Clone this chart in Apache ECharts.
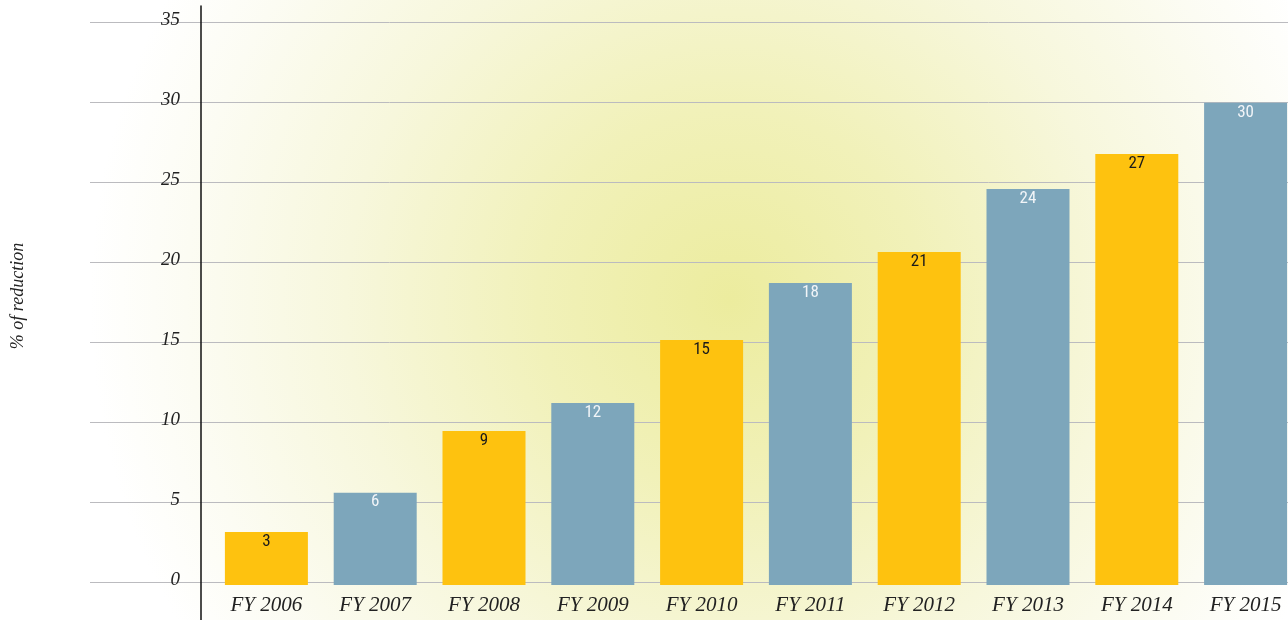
<!DOCTYPE html>
<html>
<head>
<meta charset="utf-8">
<script src="https://cdn.jsdelivr.net/npm/echarts@6/dist/echarts.min.js"></script>
<style>
html,body{margin:0;padding:0;background:#fff;}
#chart{width:1288px;height:620px;}
</style>
</head>
<body>
<div id="chart"></div>
<script>
// ---- data ----
const categories = ['FY 2006','FY 2007','FY 2008','FY 2009','FY 2010','FY 2011','FY 2012','FY 2013','FY 2014','FY 2015'];
const barHeights = [3.31, 5.77, 9.63, 11.38, 15.31, 18.88, 20.81, 24.75, 26.94, 30.14];
const barLabels = [3, 6, 9, 12, 15, 18, 21, 24, 27, 30];
const yTicks = [0, 5, 10, 15, 20, 25, 30, 35];

// ---- styles ----
const GOLD = '#FEC20F', BLUE = '#7DA6BB';
const serif = "'Liberation Serif', 'DejaVu Serif', serif";
const narrow = "'Liberation Sans Narrow', 'Arial Narrow', 'Roboto Condensed', 'Roboto', sans-serif";

const chart = echarts.init(document.getElementById('chart'), null, {renderer: 'canvas'});

const yMin = yTicks[0], yMax = yTicks[yTicks.length - 1], yStep = yTicks[1] - yTicks[0];

const option = {
  animation: false,
  backgroundColor: {
    type: 'radial', x: 730, y: 300, r: 640, global: true,
    colorStops: [
      {offset: 0, color: '#ECEC9E'},
      {offset: 0.3, color: '#F1F1B9'},
      {offset: 0.6, color: '#F7F7DC'},
      {offset: 0.85, color: '#FCFCF3'},
      {offset: 1, color: '#FFFFFF'}
    ]
  },
  grid: [
    {left: 90, right: 0, top: 22, bottom: 38, outerBoundsMode: 'none'},     // gridlines
    {left: 212, width: 1088, top: 25, bottom: 35, outerBoundsMode: 'none', containLabel: false}, // bars
    {left: 201, width: 10, top: 6, bottom: 0, outerBoundsMode: 'none'},     // axis line
    {left: 201, right: 0, top: 22, bottom: 38, outerBoundsMode: 'none'}     // tick labels
  ],
  xAxis: [
    {gridIndex: 0, type: 'value', show: false},
    {gridIndex: 1, type: 'category', data: categories,
      axisLine: {show: false}, axisTick: {show: false},
      axisLabel: {margin: 10, fontFamily: serif, fontStyle: 'italic', fontSize: 21, color: '#222'}},
    {gridIndex: 2, type: 'value', show: false},
    {gridIndex: 3, type: 'value', show: false}
  ],
  yAxis: [
    {gridIndex: 0, type: 'value', min: yMin, max: yMax, interval: yStep,
      axisLine: {show: false}, axisTick: {show: false}, axisLabel: {show: false},
      splitLine: {show: true, lineStyle: {color: '#BBBBBF', width: 1}}},
    {gridIndex: 1, type: 'value', min: yMin, max: yMax, show: false, splitLine: {show: false}},
    {gridIndex: 2, type: 'value', min: 0, max: 1,
      axisLine: {show: true, lineStyle: {color: '#111', width: 1.5}},
      axisTick: {show: false}, axisLabel: {show: false}, splitLine: {show: false}},
    {gridIndex: 3, type: 'value', min: yMin, max: yMax, interval: yStep,
      axisLine: {show: false}, axisTick: {show: false}, splitLine: {show: false},
      axisLabel: {margin: 21, fontFamily: serif, fontStyle: 'italic', fontSize: 19, color: '#222',
        verticalAlign: 'bottom', lineHeight: 4},
      name: '% of reduction', nameLocation: 'middle', nameGap: 174, nameRotate: 90,
      nameTextStyle: {fontFamily: serif, fontStyle: 'italic', fontSize: 18, color: '#222',
        padding: [0, 0, 0, 12]}}
  ],
  series: [{
    type: 'bar',
    xAxisIndex: 1, yAxisIndex: 1,
    barWidth: 83,
    data: barHeights.map((v, i) => ({
      value: v,
      itemStyle: {color: i % 2 === 0 ? GOLD : BLUE},
      label: {color: i % 2 === 0 ? '#1a1a1a' : '#F2F5F8'}
    })),
    label: {
      show: true, position: 'insideTop', distance: 1,
      fontFamily: narrow, fontSize: 17,
      formatter: p => String(barLabels[p.dataIndex])
    }
  }]
};
chart.setOption(option);
</script>
</body>
</html>
